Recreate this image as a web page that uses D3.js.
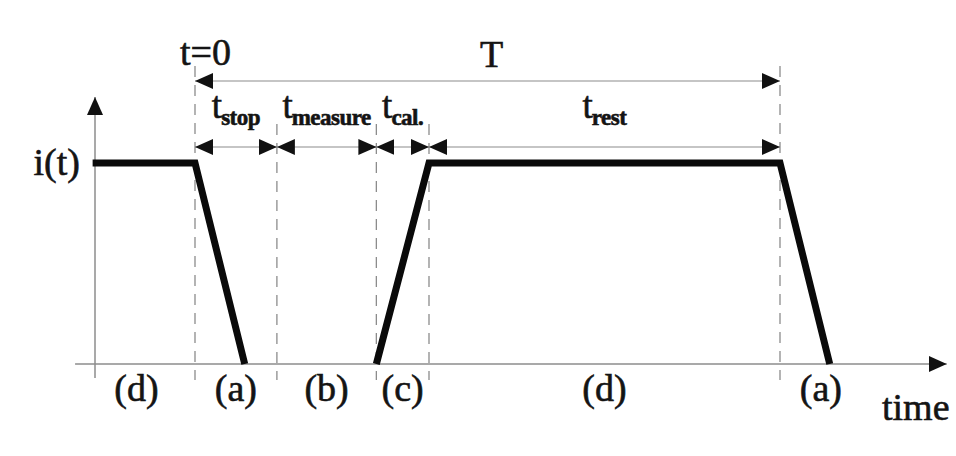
<!DOCTYPE html>
<html>
<head>
<meta charset="utf-8">
<script src="https://cdn.jsdelivr.net/npm/d3@7"></script>
<style>
  html, body { margin: 0; padding: 0; background: #fff; }
  svg { display: block; }
  text { font-family: "Liberation Serif", "Times New Roman", serif; fill: #141414; stroke: #141414; stroke-width: 0.6px; }
</style>
</head>
<body>
<svg id="chart" width="956" height="456"></svg>
<script>
// Cycle timing, in arbitrary time units (T = 100)
const boundaries = [0, 14, 31, 40, 100];             // t=0, end of stop, end of measure, end of cal., T
const intervalNames = ["stop", "measure", "cal.", "rest"];
const phaseLabels = ["(d)", "(a)", "(b)", "(c)", "(d)", "(a)"];
const phaseBounds = [-20, 0, 14, 31, 40, 100, 114];
// Current waveform i(t): [time, level] with level 1 = nominal current
const currentTimes = [-17.5, 0, 8.5, 31, 40, 100, 108.5];
const currentLevels = [1, 1, 0, 0, 1, 1, 0];
const axisStart = -20.5, axisEnd = 128.5;

const svg = d3.select("#chart");
const x = d3.scaleLinear().domain([0, 100]).range([195, 780]);
const y = d3.scaleLinear().domain([0, 1]).range([364, 163]);

const rowT = 81, rowI = 147;
const grey = "#8c8c8c";

// arrowhead marker
const defs = svg.append("defs");
defs.append("marker")
  .attr("id", "head")
  .attr("viewBox", "0 0 18 16")
  .attr("refX", 18).attr("refY", 8)
  .attr("markerWidth", 18).attr("markerHeight", 16)
  .attr("markerUnits", "userSpaceOnUse")
  .attr("orient", "auto-start-reverse")
  .append("path").attr("d", "M0,0 L18,8 L0,16 Z").attr("fill", "#111");

// dashed time boundaries
svg.append("g").selectAll("line")
  .data(boundaries)
  .join("line")
  .attr("x1", d => x(d)).attr("x2", d => x(d))
  .attr("y1", (d, i) => (i === 0 || i === boundaries.length - 1) ? 66 : 124)
  .attr("y2", 380)
  .attr("stroke", grey).attr("stroke-width", 1.3)
  .attr("stroke-dasharray", "11,8");

// axes
svg.append("line")
  .attr("x1", x(axisStart)).attr("x2", x(axisEnd))
  .attr("y1", y(0)).attr("y2", y(0))
  .attr("stroke", grey).attr("stroke-width", 1.5)
  .attr("marker-end", "url(#head)");
svg.append("line")
  .attr("x1", 95).attr("x2", 95)
  .attr("y1", 378).attr("y2", 97)
  .attr("stroke", grey).attr("stroke-width", 1.5)
  .attr("marker-end", "url(#head)");

// period arrow T
svg.append("line")
  .attr("x1", x(boundaries[0])).attr("x2", x(boundaries[boundaries.length - 1]))
  .attr("y1", rowT).attr("y2", rowT)
  .attr("stroke", grey).attr("stroke-width", 1.2)
  .attr("marker-start", "url(#head)").attr("marker-end", "url(#head)");

// interval arrows
const intervals = d3.pairs(boundaries).map((p, i) => ({ a: p[0], b: p[1], name: intervalNames[i] }));
svg.append("g").selectAll("line")
  .data(intervals)
  .join("line")
  .attr("x1", d => x(d.a)).attr("x2", d => x(d.b))
  .attr("y1", rowI).attr("y2", rowI)
  .attr("stroke", grey).attr("stroke-width", 1.2)
  .attr("marker-start", "url(#head)").attr("marker-end", "url(#head)");

// interval labels t_xxx
const lab = svg.append("g").selectAll("text")
  .data(intervals)
  .join("text")
  .attr("x", d => x((d.a + d.b) / 2))
  .attr("y", 118)
  .attr("text-anchor", "middle");
lab.append("tspan").attr("font-size", 37).text("t");
lab.append("tspan").attr("font-size", 23).attr("dx", -1).attr("dy", 7)
  .attr("style", "font-weight:bold; letter-spacing:-0.5px").text(d => d.name);

// current waveform: the zero-current stretch lies on the axis, so it is left undrawn
const pts = currentTimes.map((t, i) => ({ p: [x(t), y(currentLevels[i])], lv: currentLevels[i] }));
const segs = [];
let cur = [pts[0].p];
for (let i = 1; i < pts.length; i++) {
  if (pts[i].lv === 0 && pts[i - 1].lv === 0) { segs.push(cur); cur = [pts[i].p]; }
  else cur.push(pts[i].p);
}
segs.push(cur);
svg.append("g").selectAll("path")
  .data(segs)
  .join("path")
  .attr("d", d3.line())
  .attr("fill", "none").attr("stroke", "#0a0a0a")
  .attr("stroke-width", 7).attr("stroke-linejoin", "miter");

// phase labels below the time axis
svg.append("g").selectAll("text")
  .data(phaseLabels)
  .join("text")
  .attr("x", (d, i) => x((phaseBounds[i] + phaseBounds[i + 1]) / 2))
  .attr("y", 401)
  .attr("text-anchor", "middle")
  .attr("font-size", 38)
  .text(d => d);

// axis titles and markers
svg.append("text").attr("x", 80).attr("y", 175).attr("text-anchor", "end").attr("font-size", 38).text("i(t)");
svg.append("text").attr("x", 882).attr("y", 420).attr("font-size", 38).text("time");
svg.append("text").attr("x", x(0) - 15).attr("y", 65).attr("font-size", 38).text("t=0");
svg.append("text").attr("x", x(50) + 4).attr("y", 67).attr("text-anchor", "middle").attr("font-size", 38).text("T");
</script>
</body>
</html>
